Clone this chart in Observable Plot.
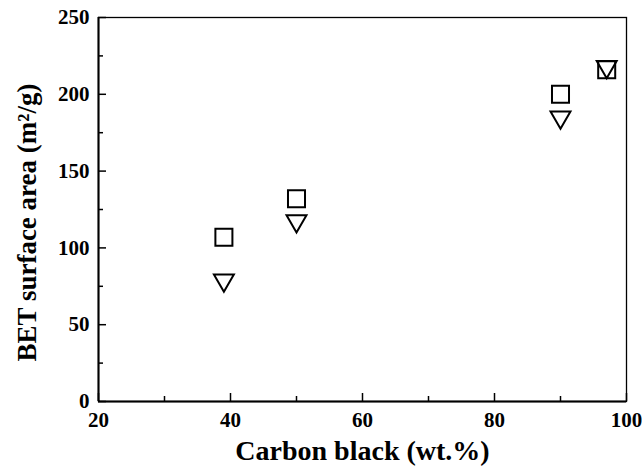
<!DOCTYPE html>
<html>
<head>
<meta charset="utf-8">
<script src="https://cdn.jsdelivr.net/npm/d3@7"></script>
<script src="https://cdn.jsdelivr.net/npm/@observablehq/plot@0.6"></script>
<style>
  html, body { margin: 0; padding: 0; background: #fff; }
</style>
</head>
<body>
<div id="chart"></div>
<script>
const carbonBlack = [39, 50, 90, 97];
const squareValues = [107, 132, 200, 216];
const triangleValues = [79, 117.5, 185, 218];
const xMajorTicks = [20, 40, 60, 80, 100];
const xMinorTicks = [30, 50, 70, 90];
const yMajorTicks = [0, 50, 100, 150, 200, 250];
const yMinorTicks = [25, 75, 125, 175, 225];
const xTitle = "Carbon black (wt.%)";
const yTitle = "BET surface area (m²/g)";

const squares = carbonBlack.map((x, i) => ({x, y: squareValues[i]}));
const triangles = carbonBlack.map((x, i) => ({x, y: triangleValues[i]}));

const W = 642, H = 470, mL = 98, mR = 16, mT = 17, mB = 69;
const fw = W - mL - mR, fh = H - mT - mB;

const chart = Plot.plot({
  width: W,
  height: H,
  marginLeft: mL,
  marginRight: mR,
  marginTop: mT,
  marginBottom: mB,
  style: {fontFamily: "'Liberation Serif', 'Times New Roman', serif", fontWeight: "bold", fontSize: "21px", color: "#000", background: "#fff"},
  x: {domain: [20, 100]},
  y: {domain: [0, 250]},
  marks: [
    Plot.frame({stroke: "#000", strokeWidth: 1.3}),
    Plot.ruleX([20], {stroke: "#000", strokeWidth: 2}),
    Plot.ruleY([0], {stroke: "#000", strokeWidth: 2}),
    Plot.ruleX(xMajorTicks, {insetTop: fh - 8, stroke: "#000", strokeWidth: 1.5}),
    Plot.ruleX(xMinorTicks, {insetTop: fh - 5, stroke: "#000", strokeWidth: 1.5}),
    Plot.ruleY(yMajorTicks, {insetRight: fw - 8, stroke: "#000", strokeWidth: 1.5}),
    Plot.ruleY(yMinorTicks, {insetRight: fw - 5, stroke: "#000", strokeWidth: 1.5}),
    Plot.axisX({ticks: xMajorTicks, tickSize: 0, tickPadding: 11, label: null, fontSize: 21}),
    Plot.axisY({ticks: yMajorTicks, tickSize: 0, tickPadding: 9, label: null, fontSize: 21}),
    Plot.dot(squares, {x: "x", y: "y", symbol: "square", r: 9.6, stroke: "#000", strokeWidth: 2, fill: "none"}),
    Plot.dot(triangles, {x: "x", y: "y", symbol: "triangle", rotate: 180, r: 7.4, stroke: "#000", strokeWidth: 2, fill: "none"}),
    Plot.text([xTitle], {text: d => d, frameAnchor: "bottom", dy: 58, fontSize: 28, fill: "#000"}),
    Plot.text([yTitle], {text: d => d, frameAnchor: "left", textAnchor: "middle", dx: -71, dy: 13, rotate: -90, fontSize: 27, fill: "#000"})
  ]
});
document.getElementById("chart").appendChild(chart);
</script>
</body>
</html>
